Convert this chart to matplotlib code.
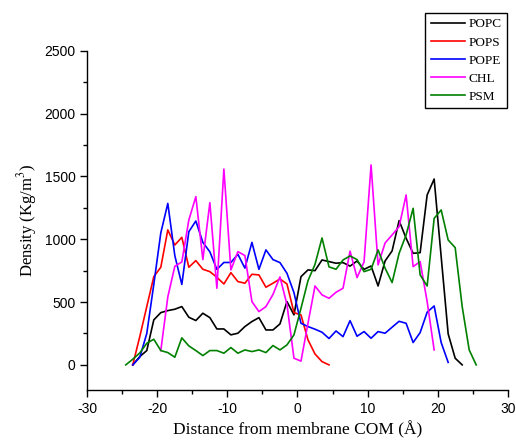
import numpy as np
import matplotlib
matplotlib.use('Agg')
import matplotlib.pyplot as plt
from matplotlib.ticker import MultipleLocator

plt.rcParams["mathtext.fontset"] = "stix"
plt.rcParams["axes.unicode_minus"] = False

# density profiles, sampled every 1 A at half-integer positions
x_popc = np.arange(-23.5, 24.0, 1.0)
popc = [0, 66, 114, 358, 416, 432, 443, 464, 379, 353, 411, 376, 286, 286,
        239, 252, 305, 345, 376, 278, 278, 326, 504, 398, 702, 756, 750, 835,
        822, 809, 814, 786, 827, 760, 787, 628, 827, 907, 1148, 1008, 888, 893,
        1352, 1479, 862, 247, 53, 0]

x_pops = np.arange(-23.5, 5.0, 1.0)
pops = [0, 225, 464, 702, 777, 1074, 954, 1015, 777, 830, 761, 742, 697, 644,
        734, 663, 650, 721, 716, 618, 650, 684, 644, 416, 398, 199, 87, 26, 0]

x_pope = np.arange(-23.5, 22.0, 1.0)
pope = [0, 60, 250, 640, 1050, 1285, 870, 640, 1060, 1145, 975, 900, 760, 815,
        815, 880, 770, 975, 760, 915, 838, 814, 729, 575, 331, 305, 284, 260,
        210, 270, 225, 352, 228, 265, 212, 265, 252, 300, 347, 331, 178, 257,
        419, 469, 178, 20]

x_chl = np.arange(-19.5, 20.0, 1.0)
chl = [114, 541, 785, 819, 1153, 1339, 838, 1291, 610, 1558, 756, 901, 870,
       504, 424, 464, 560, 700, 480, 53, 30, 331, 628, 557, 530, 578, 610, 905,
       695, 820, 1591, 796, 970, 1034, 1100, 1352, 782, 822, 504, 119]

x_psm = np.arange(-24.5, 26.0, 1.0)
psm = [0, 45, 95, 172, 204, 114, 98, 61, 215, 151, 114, 74, 114, 114, 93, 138,
       93, 119, 106, 119, 98, 154, 119, 159, 239, 450, 670, 800, 1010, 780, 761,
       835, 867, 838, 742, 761, 915, 770, 655, 888, 1034, 1246, 716, 628, 1166,
       1233, 994, 933, 464, 119, 0]

series = [("POPC", x_popc, popc, "black"),
          ("POPS", x_pops, pops, "red"),
          ("POPE", x_pope, pope, "blue"),
          ("CHL", x_chl, chl, "magenta"),
          ("PSM", x_psm, psm, "green")]

fig = plt.figure(figsize=(5.16, 4.42), dpi=100)
ax = fig.add_axes([0.169, 0.1176, 0.815, 0.7676])

for name, xs, ys, col in series:
    ax.plot(xs, ys, color=col, lw=1.2, label=name)

ax.set_xlim(-30, 30)
ax.set_ylim(-200, 2500)
ax.xaxis.set_major_locator(MultipleLocator(10))
ax.xaxis.set_minor_locator(MultipleLocator(5))
ax.yaxis.set_major_locator(MultipleLocator(500))
ax.yaxis.set_minor_locator(MultipleLocator(250))
ax.set_yticks([0, 500, 1000, 1500, 2000, 2500])

for side in ['top', 'right']:
    ax.spines[side].set_visible(False)
for side in ['bottom', 'left']:
    ax.spines[side].set_linewidth(1.0)

ax.tick_params(which='major', direction='out', length=5, width=1.0,
               labelsize=10)
ax.tick_params(which='minor', direction='out', length=3, width=1.0)
for lab in ax.get_xticklabels() + ax.get_yticklabels():
    lab.set_fontfamily('Liberation Sans')

ax.set_xlabel("Distance from membrane COM (\u00c5)", family='Liberation Serif',
              fontsize=12.5)
ax.set_ylabel("Density (Kg/m$^3$)", family='Liberation Serif', fontsize=12)

leg = fig.legend(loc='upper right', bbox_to_anchor=(0.983, 0.971),
                 prop={'family': 'Liberation Serif', 'size': 9.5},
                 fancybox=False, framealpha=1, edgecolor='black',
                 handlelength=2.6, handletextpad=0.3, borderaxespad=0,
                 labelspacing=0.45)
leg.get_frame().set_linewidth(1.0)

plt.savefig("out.png", dpi=100)
